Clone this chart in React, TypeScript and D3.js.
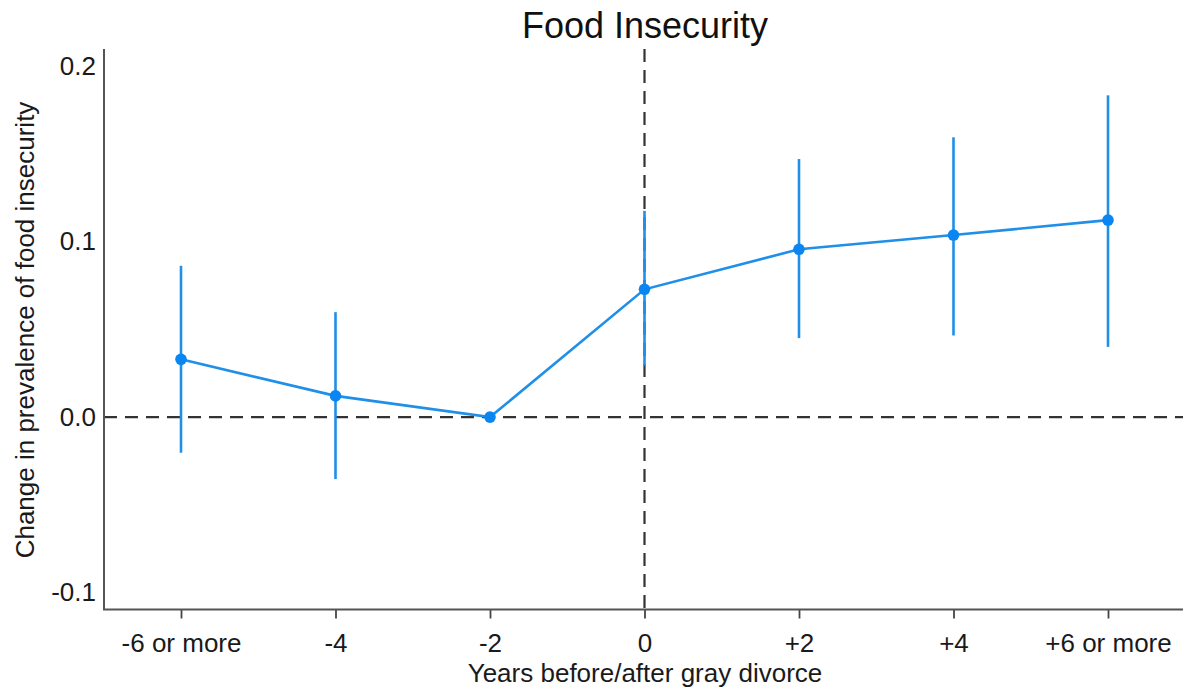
import { useEffect, useRef } from 'react';
import * as d3 from 'd3';

const categories = ['-6 or more', '-4', '-2', '0', '+2', '+4', '+6 or more'];
const estimates = [0.0329, 0.0121, 0, 0.0728, 0.0956, 0.1037, 0.1122];
const ciLow = [-0.0203, -0.0353, null, 0.0291, 0.045, 0.0465, 0.04];
const ciHigh = [0.0862, 0.0598, null, 0.1175, 0.147, 0.1594, 0.1833];
const yTicks = [-0.1, 0, 0.1, 0.2];

const W = 1183;
const H = 692;
const FONT = 'Liberation Sans, Arial, sans-serif';

export default function App() {
  const svgRef = useRef<SVGSVGElement>(null);

  useEffect(() => {
    if (!svgRef.current) return;
    const svg = d3.select(svgRef.current);
    svg.selectAll('*').remove();

    const left = 104, right = W, top = 49, bottom = 609.5;
    const x = d3.scalePoint<string>().domain(categories).range([181, 1108]);
    const y = d3.scaleLinear().domain([-0.1096, 0.2097]).range([bottom, top]);

    const lineColor = '#1f8fe8';
    const dotColor = '#0a86f2';
    const dashColor = '#333333';

    // reference lines
    svg.append('line')
      .attr('x1', left).attr('x2', right).attr('y1', y(0)).attr('y2', y(0))
      .attr('stroke', dashColor).attr('stroke-width', 2.2).attr('stroke-dasharray', '13,8');
    svg.append('line')
      .attr('x1', x('0')!).attr('x2', x('0')!).attr('y1', top).attr('y2', bottom)
      .attr('stroke', dashColor).attr('stroke-width', 2.2).attr('stroke-dasharray', '13,8');

    // confidence intervals
    const rows = categories.map((c, i) => ({ c, est: estimates[i], lo: ciLow[i], hi: ciHigh[i] }));
    svg.append('g').selectAll('line').data(rows.filter(d => d.lo != null)).enter().append('line')
      .attr('x1', d => x(d.c)!).attr('x2', d => x(d.c)!)
      .attr('y1', d => y(d.lo as number)).attr('y2', d => y(d.hi as number))
      .attr('stroke', lineColor).attr('stroke-width', 2.6);

    // connecting line
    const line = d3.line<typeof rows[0]>().x(d => x(d.c)!).y(d => y(d.est));
    svg.append('path').datum(rows)
      .attr('fill', 'none').attr('stroke', lineColor).attr('stroke-width', 2.6).attr('d', line);

    svg.append('g').selectAll('circle').data(rows).enter().append('circle')
      .attr('cx', d => x(d.c)!).attr('cy', d => y(d.est)).attr('r', 5.8)
      .attr('fill', dotColor);

    // axes
    const xAxis = svg.append('g').attr('transform', `translate(0,${bottom})`)
      .call(d3.axisBottom(x).tickSize(9).tickPadding(15));
    xAxis.select('.domain').remove();
    xAxis.selectAll('.tick line').attr('stroke', '#444').attr('stroke-width', 1.8);
    xAxis.selectAll('text').attr('fill', '#1a1a1a').attr('font-size', 26).attr('font-family', FONT);

    const yAxis = svg.append('g').attr('transform', `translate(${left},0)`)
      .call(d3.axisLeft(y).tickValues(yTicks).tickSize(0).tickPadding(8)
        .tickFormat(d => (+d).toFixed(1)));
    yAxis.select('.domain').remove();
    yAxis.selectAll('text').attr('fill', '#1a1a1a').attr('font-size', 26).attr('font-family', FONT);

    svg.append('path')
      .attr('d', `M${left},${top}V${bottom}H${right}`)
      .attr('fill', 'none').attr('stroke', '#555').attr('stroke-width', 2);

    // titles
    svg.append('text').attr('x', 645).attr('y', 37.5).attr('text-anchor', 'middle')
      .attr('font-size', 36).attr('font-family', FONT).attr('fill', '#111').text('Food Insecurity');
    svg.append('text').attr('x', 645).attr('y', 682).attr('text-anchor', 'middle')
      .attr('font-size', 26).attr('font-family', FONT).attr('fill', '#1a1a1a').text('Years before/after gray divorce');
    svg.append('text').attr('transform', `translate(34,${330}) rotate(-90)`).attr('text-anchor', 'middle')
      .attr('font-size', 26).attr('font-family', FONT).attr('fill', '#1a1a1a')
      .text('Change in prevalence of food insecurity');
  }, []);

  return (
    <svg ref={svgRef} width={W} height={H}
      style={{ position: 'absolute', left: 0, top: 0, background: '#fff' }} />
  );
}
